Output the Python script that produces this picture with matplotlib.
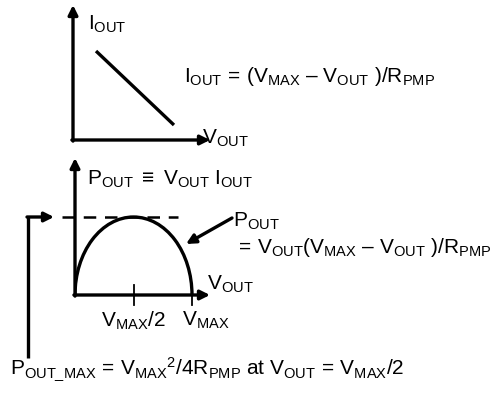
import matplotlib.pyplot as plt
from matplotlib.patches import Arc, FancyArrowPatch

plt.rcParams['font.family'] = 'Liberation Sans'
plt.rcParams['mathtext.fontset'] = 'custom'
plt.rcParams['mathtext.rm'] = 'Liberation Sans'
plt.rcParams['mathtext.it'] = 'Liberation Sans'
plt.rcParams['mathtext.bf'] = 'Liberation Sans:bold'

W, H = 495, 397
FS = 15
LW = 2.4

# I-V line of the pump (normalised units)
iv_v = [0.168, 0.737]
iv_i = [0.659, 0.111]

# Power curve: P = V (Vmax - V) / R, peak at Vmax/2
v_max = 1.0
p_max = 1.0
tick_v = [v_max / 2, v_max]
tick_labels = [r'$\mathrm{V_{MAX}/2}$', r'$\mathrm{V_{MAX}}$']


def px_axes(fig, left, top, right, bottom):
    return fig.add_axes([left / W, 1 - bottom / H, (right - left) / W, (bottom - top) / H])


def ftext(fig, x, y, s, **kw):
    fig.text(x / W, 1 - y / H, s, fontsize=FS, va='baseline', **kw)


def draw_arrow_axes(ax):
    ax.set_axis_off()
    arrow = dict(arrowstyle='-|>', lw=LW, color='black', shrinkA=0, shrinkB=0,
                 mutation_scale=14)
    ax.annotate('', xy=(1, 0), xytext=(-0.008, 0), xycoords='axes fraction',
                arrowprops=arrow, annotation_clip=False)
    ax.annotate('', xy=(0, 1), xytext=(0, -0.008), xycoords='axes fraction',
                arrowprops=arrow, annotation_clip=False)


fig = plt.figure(figsize=(W / 100, H / 100), dpi=100)

# Top: I_OUT vs V_OUT
ax1 = px_axes(fig, 73, 5, 210, 140)
ax1.set_xlim(0, 1)
ax1.set_ylim(0, 1)
draw_arrow_axes(ax1)
ax1.plot(iv_v, iv_i, color='black', lw=LW, solid_capstyle='butt')

# Bottom: P_OUT vs V_OUT
ax2 = px_axes(fig, 75, 158, 210, 295)
ax2.set_xlim(0, 135 / 117)
ax2.set_ylim(0, 137 / 78)
draw_arrow_axes(ax2)
ax2.add_patch(Arc((v_max / 2, 0), v_max, 2 * p_max, theta1=0, theta2=180,
                  color='black', lw=LW))
for v in tick_v:
    ax2.plot([v, v], [-10 / 78, 10 / 78], color='black', lw=1.3, clip_on=False)
ax2.text(tick_v[0], -15 / 78, tick_labels[0], fontsize=FS, ha='center', va='top')
ax2.text(tick_v[1] - 10 / 117, -15 / 78, tick_labels[1], fontsize=FS, ha='left', va='top')

# dashed level at P_max
ax2.plot([-13 / 117, 103 / 117], [p_max, p_max], color='black', lw=1.8,
         dashes=(5, 3.5), clip_on=False)
# pointer from the P_OUT_MAX formula up to the dashed level
ax2.plot([-47 / 117, -47 / 117], [p_max, -63 / 78], color='black', lw=LW,
         clip_on=False, solid_capstyle='butt')
ax2.annotate('', xy=(-21 / 117, p_max), xytext=(-48 / 117, p_max),
             arrowprops=dict(arrowstyle='-|>', lw=LW, color='black', shrinkA=0,
                             shrinkB=0, mutation_scale=14),
             annotation_clip=False)

# pointer from the P_OUT label to the curve
fig.add_artist(FancyArrowPatch(
    (232 / W, 1 - 218 / H), (186 / W, 1 - 244 / H), transform=fig.transFigure,
    arrowstyle='-|>', lw=LW, color='black', mutation_scale=14, shrinkA=0, shrinkB=0))

ftext(fig, 184, 82, r'$\mathrm{I_{OUT}\,=\,(V_{MAX}\ –\ V_{OUT}\ )/R_{PMP}}$')
ftext(fig, 88, 30, r'$\mathrm{I_{OUT}}$')
ftext(fig, 202, 144, r'$\mathrm{V_{OUT}}$')
ftext(fig, 87, 185, r'$\mathrm{P_{OUT}\ \equiv\ V_{OUT}\ I_{OUT}}$')
ftext(fig, 233, 227, r'$\mathrm{P_{OUT}}$')
ftext(fig, 235, 253, r'$\mathrm{=\,V_{OUT}(V_{MAX}\ –\ V_{OUT}\ )/R_{PMP}}$')
ftext(fig, 207, 290, r'$\mathrm{V_{OUT}}$')
ftext(fig, 10, 375, r'$\mathrm{P_{OUT\_MAX}\,=\,V_{MAX}{}^{2}/4R_{PMP}\ at\ V_{OUT}\,=\,V_{MAX}/2}$')

fig.savefig('out.png', dpi=100)
